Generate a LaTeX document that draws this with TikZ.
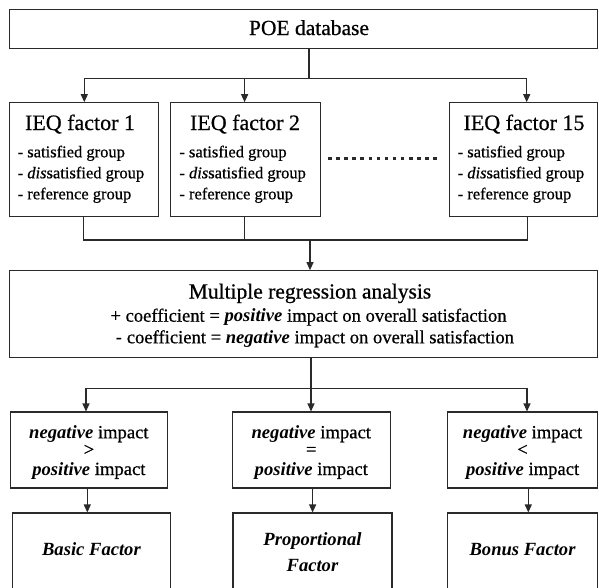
\documentclass[tikz,border=0pt]{standalone}
\usepackage{fontspec}
\setmainfont{Liberation Serif}[UprightFeatures={FakeBold=0.6},ItalicFeatures={FakeBold=0.6}]
\usetikzlibrary{arrows.meta}
\definecolor{lc}{HTML}{2A2A2A}
\newcommand\ftitlesz{\fontsize{21.5}{24}\selectfont}
\newcommand\fieqsz{\fontsize{22}{24}\selectfont}
\newcommand\fbodysz{\fontsize{18.6}{20}\selectfont}
\newcommand\fitemsz{\fontsize{16.5}{18}\selectfont}
\newcommand\bi[1]{\textbf{\textit{#1}}}
\begin{document}
\begin{tikzpicture}[x=1pt,y=-1pt,
  box/.style={draw=lc, line width=1.1pt, rectangle, inner sep=0pt},
  conn/.style={draw=lc, line width=1.1pt},
  arr/.style={conn, -{Triangle[length=8pt,width=7pt]}},
  txt/.style={inner sep=0pt, anchor=base, text=black},
  item/.style={inner sep=0pt, anchor=base west, text=black, font=\fitemsz},
  dots/.style={draw=lc, line width=3pt, dash pattern=on 3.5pt off 4.6pt}]
\useasboundingbox (0,0) rectangle (599,587);
\clip (0,0) rectangle (599,587);
\fill[white] (0,0) rectangle (599,587);

% boxes
\node[box, minimum width=588.5pt, minimum height=39.3pt] (poe) at (303.3,28.7) {};
\node[box, minimum width=149.3pt, minimum height=113.3pt] (ieq1) at (83.7,159.4) {};
\node[box, minimum width=150pt, minimum height=113.3pt] (ieq2) at (245.7,159.4) {};
\node[box, minimum width=148.5pt, minimum height=113.3pt] (ieq15) at (523.3,159.4) {};
\node[box, minimum width=588.5pt, minimum height=87pt] (mr) at (303.3,314.2) {};
\node[box, minimum width=157.7pt, minimum height=76pt] (m1) at (88.9,450) {};
\node[box, minimum width=158.5pt, minimum height=76pt] (m2) at (311.3,450) {};
\node[box, minimum width=149.8pt, minimum height=76pt] (m3) at (522.6,450) {};
\node[box, minimum width=158.4pt, minimum height=87pt] (f1) at (91.5,556.5) {};
\node[box, minimum width=159pt, minimum height=87pt] (f2) at (312.5,556.5) {};
\node[box, minimum width=149.8pt, minimum height=87pt] (f3) at (522.6,556.5) {};

% texts
\node[txt, font=\ftitlesz] (tpoe) at (309,35) {POE database};
\node[txt, font=\fieqsz] (ti1) at (80,130) {IEQ factor 1};
\node[txt, font=\fieqsz] (ti2) at (245,130) {IEQ factor 2};
\node[txt, font=\fieqsz] (ti15) at (524,130) {IEQ factor 15};
\foreach \b/\x in {1/17.5, 2/179.2, 15/457.5}{
  \node[item] (sa\b) at (\x,157.3) {- satisfied group};
  \node[item] (di\b) at (\x,178.3) {- \textit{dis}satisfied group};
  \node[item] (re\b) at (\x,199.3) {- reference group};
}
\node[txt, font=\ftitlesz] (tmr) at (310,298.5) {Multiple regression analysis};
\node[txt, font=\fbodysz] (tpos) at (308.5,321.7) {+ coefficient = \bi{positive} impact on overall satisfaction};
\node[txt, font=\fbodysz] (tneg) at (315,343.3) {\textbf{-} coefficient = \bi{negative} impact on overall satisfaction};

\foreach \n/\x/\s in {1/88.9/>, 2/311.3/=, 3/522.6/<}{
  \node[txt, font=\fbodysz] (na\n) at (\x,438.3) {\bi{negative} impact};
  \node[txt, font=\fbodysz] (op\n) at (\x,455.5) {\s};
  \node[txt, font=\fbodysz] (pa\n) at (\x,475) {\bi{positive} impact};
}
\node[txt, font=\fbodysz] (basic) at (91.5,555) {\bi{Basic Factor}};
\node[txt, font=\fbodysz] (prop1) at (312.5,545) {\bi{Proportional}};
\node[txt, font=\fbodysz] (prop2) at (312.5,571.7) {\bi{Factor}};
\node[txt, font=\fbodysz] (bonus) at (522.6,555) {\bi{Bonus Factor}};

% top distribution
\coordinate (tc) at (309,78.3);
\coordinate (t1) at (84.3,78.3);
\coordinate (t2) at (244.6,78.3);
\coordinate (t15) at (526.7,78.3);
\draw[conn] (tc |- poe.south) -- (tc);
\draw[conn] (t1) -- (t15);
\draw[arr] (t1) -- (t1 |- ieq1.north);
\draw[arr] (t2) -- (t2 |- ieq2.north);
\draw[arr] (t15) -- (t15 |- ieq15.north);

% dotted ellipsis
\coordinate (dl) at (328,158.3);
\coordinate (dr) at (440,158.3);
\draw[dots] (dl) -- (dr);

% join
\coordinate (b1) at (83.3,240);
\coordinate (b2) at (244.6,240);
\coordinate (b15) at (527.3,240);
\coordinate (bc) at (310,240);
\draw[conn] (b1 |- ieq1.south) -- (b1) -- (b15) -- (b15 |- ieq15.south);
\draw[conn] (b2 |- ieq2.south) -- (b2);
\draw[arr] (bc) -- (bc |- mr.north);

% lower distribution
\coordinate (c1) at (86,388.3);
\coordinate (cc) at (311,388.3);
\coordinate (c15) at (527,388.3);
\draw[conn] (cc |- mr.south) -- (cc);
\draw[conn] (c1) -- (c15);
\draw[arr] (c1) -- (c1 |- m1.north);
\draw[arr] (cc) -- (cc |- m2.north);
\draw[arr] (c15) -- (c15 |- m3.north);

% to factors
\coordinate (d1) at (87.3,0);
\coordinate (d2) at (312.6,0);
\coordinate (d3) at (528.3,0);
\draw[arr] (d1 |- m1.south) -- (d1 |- f1.north);
\draw[arr] (d2 |- m2.south) -- (d2 |- f2.north);
\draw[arr] (d3 |- m3.south) -- (d3 |- f3.north);
\end{tikzpicture}
\end{document}
